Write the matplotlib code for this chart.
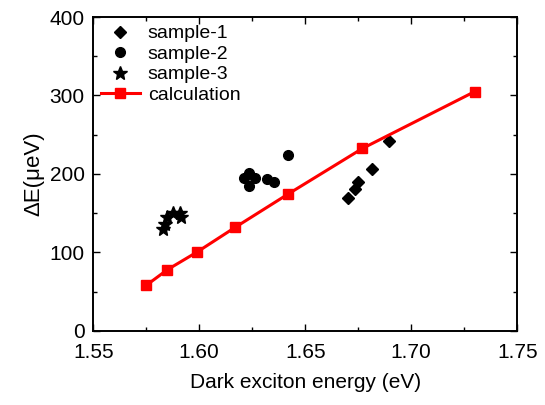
import matplotlib
matplotlib.use("Agg")
import matplotlib.pyplot as plt
from matplotlib.ticker import MultipleLocator

plt.rcParams.update({
    "font.family": ["Liberation Sans", "DejaVu Sans"],
    "font.size": 15,
})

# sample-1 (diamonds)
s1_x = [1.6703, 1.6735, 1.6749, 1.6815, 1.6893]
s1_y = [169, 181, 190, 206, 242]
# sample-2 (circles)
s2_x = [1.6209, 1.6234, 1.6234, 1.6264, 1.6322, 1.6355, 1.6419]
s2_y = [194.5, 201, 185, 194.5, 193, 189.5, 224]
# sample-3 (stars)
s3_x = [1.5830, 1.5840, 1.5846, 1.5878, 1.5911, 1.5914]
s3_y = [130, 136, 145.5, 150, 150.5, 145.5]
# calculation
calc_x = [1.575, 1.585, 1.599, 1.617, 1.642, 1.677, 1.730]
calc_y = [58, 78, 100.5, 132, 174.5, 232.5, 305]

fig = plt.figure(figsize=(5.45, 4.05), dpi=100)
ax = fig.add_axes([0.171, 0.183, 0.778, 0.775])

ax.plot(s1_x, s1_y, ls="none", marker="D", ms=6.5, color="black", label="sample-1")
ax.plot(s2_x, s2_y, ls="none", marker="o", ms=7, color="black", label="sample-2")
ax.plot(s3_x, s3_y, ls="none", marker="*", ms=10, color="black", label="sample-3")
ax.plot(calc_x, calc_y, color="#ff0000", lw=2.2, marker="s", ms=6.5,
        label="calculation")

ax.set_xlim(1.55, 1.75)
ax.set_ylim(0, 400)
ax.xaxis.set_major_locator(MultipleLocator(0.05))
ax.xaxis.set_minor_locator(MultipleLocator(0.025))
ax.yaxis.set_major_locator(MultipleLocator(100))
ax.yaxis.set_minor_locator(MultipleLocator(50))
ax.xaxis.set_major_formatter(matplotlib.ticker.FormatStrFormatter("%.2f"))
ax.tick_params(which="both", direction="in", top=True, right=True, labelsize=15)
ax.tick_params(axis="x", which="major", pad=9)
ax.tick_params(axis="y", which="major", pad=6)
ax.tick_params(which="major", length=5, width=1)
ax.tick_params(which="minor", length=3, width=1)
for sp in ax.spines.values():
    sp.set_linewidth(1.4)

ax.set_xlabel("Dark exciton energy (eV)", fontsize=15, labelpad=8)
ax.set_ylabel("ΔE(μeV)", fontsize=16, labelpad=4)

ax.legend(loc="upper left", frameon=False, fontsize=14, handlelength=2.0,
          handletextpad=0.4, labelspacing=0.15, borderaxespad=0.1,
          borderpad=0.3)

fig.savefig("out.png", dpi=100, facecolor="white")
